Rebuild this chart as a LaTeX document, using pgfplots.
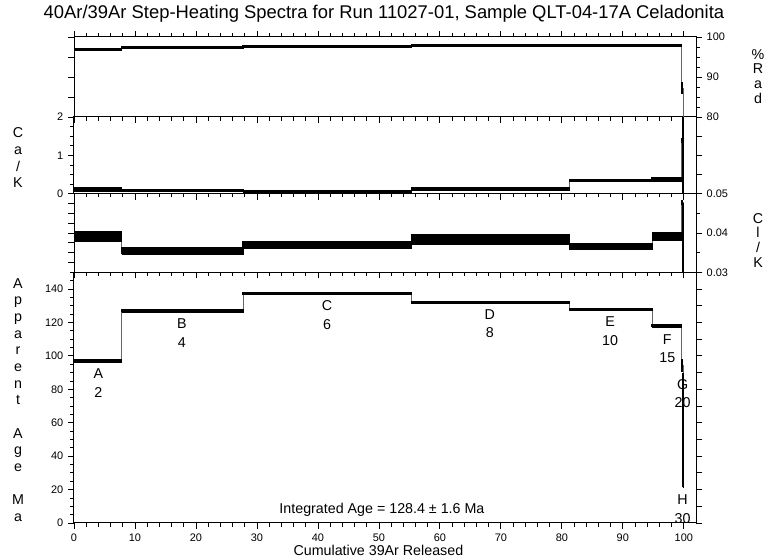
\documentclass[border=0pt]{standalone}
\usepackage{fontspec}
\setmainfont{Liberation Sans}
\usepackage{pgfplots}
\pgfplotsset{compat=1.18}

% one step of the spectrum: x from #1 to #2, band from #3 to #4
\newcommand\stepbox[4]{\addplot[stepbar] coordinates {(#1,#3) (#2,#3) (#2,#4) (#1,#4) (#1,#3)};}

\pgfplotsset{
  base/.style={scale only axis, width=466.5pt, xmin=0, xmax=102, clip=true,
    axis line style={line width=0.75pt},
    tick align=outside, major tick length=4.5pt, minor tick length=2.8pt,
    tick style={black, line width=0.6pt},
    tick label style={font=\fontsize{8.2}{9}\selectfont},
    /pgf/number format/assume math mode=true,
    scaled ticks=false},
  panel/.style={base, xtick={0,10,...,100}, minor xtick={0,2,...,100},
    xticklabels={}, ytick pos=left, xtick pos=bottom},
  rside/.style={base, axis y line*=right, axis x line=none, tick align=outside},
}
\tikzset{
  stepbar/.style={fill=black, draw=black, line width=0.9pt},
  conn/.style={const plot, draw=black!60, line width=0.5pt},
  steplbl/.style={font=\fontsize{10.7}{13.9}\selectfont, align=center, inner sep=0pt},
  stack/.style={align=center, font=\fontsize{10.7}{12.5}\selectfont},
  rstack/.style={align=center, font=\fontsize{10.7}{11}\selectfont},
}

\begin{document}
\begin{tikzpicture}
\path[use as bounding box] (-55.5pt,-27.75pt) rectangle (522.75pt,392.25pt);

% ---- apparent age ----
\begin{axis}[panel, at={(0,0)}, anchor=south west, height=188pt,
  ymin=0, ymax=150, ytick={0,20,...,140}, minor ytick={0,5,...,150},
  xticklabels={0,10,20,30,40,50,60,70,80,90,100}]
\addplot[conn] coordinates {(0,97) (7.8,126.8) (27.7,137.3) (55.3,132) (81.2,127.8)
  (94.8,117.9) (99.6,94.25) (99.85,55.3) (100,55.3)};
\stepbox{0}{7.8}{96.3}{97.7}
\stepbox{7.8}{27.7}{126.1}{127.5}
\stepbox{27.7}{55.3}{136.6}{138.0}
\stepbox{55.3}{81.2}{131.3}{132.7}
\stepbox{81.2}{94.8}{127.1}{128.5}
\stepbox{94.8}{99.6}{117.2}{118.6}
\stepbox{99.6}{99.85}{90.9}{97.6}
\stepbox{99.85}{100}{21.3}{89.3}
\node[steplbl] at (axis cs:4,83.7) {A\\2};
\node[steplbl] at (axis cs:17.7,113.8) {B\\4};
\node[steplbl] at (axis cs:41.5,124.5) {C\\6};
\node[steplbl] at (axis cs:68.2,119.4) {D\\8};
\node[steplbl] at (axis cs:87.9,114.9) {E\\10};
\node[steplbl] at (axis cs:97.3,104.2) {F\\15};
\node[steplbl] at (axis cs:99.8,77.5) {G\\20};
\node[steplbl] at (axis cs:99.8,8.4) {H\\30};
\node[font=\fontsize{10.7}{12.5}\selectfont] at (axis cs:50.5,7.7) {Integrated Age = 128.4 ± 1.6 Ma};
\end{axis}
\begin{axis}[rside, at={(0,0)}, anchor=south west, height=188pt,
  ymin=0, ymax=150, ytick={0,10,...,150}, yticklabels={}]
\end{axis}

% ---- Cl/K ----
\begin{axis}[panel, at={(0,188pt)}, anchor=south west, height=59pt,
  ymin=0.03, ymax=0.05,
  ytick={0.0325,0.035,0.0375,0.04,0.0425,0.045,0.0475}, yticklabels={}]
\addplot[conn] coordinates {(0,0.0391) (7.8,0.0354) (27.7,0.0369) (55.3,0.0384) (81.2,0.0365)
  (94.8,0.0391) (99.6,0.0477) (99.85,0.02) (100,0.02)};
\stepbox{0}{7.8}{0.0378}{0.0404}
\stepbox{7.8}{27.7}{0.0346}{0.0362}
\stepbox{27.7}{55.3}{0.0361}{0.0377}
\stepbox{55.3}{81.2}{0.0371}{0.0397}
\stepbox{81.2}{94.8}{0.0358}{0.0372}
\stepbox{94.8}{99.6}{0.0381}{0.0401}
\stepbox{99.6}{99.85}{0.0472}{0.0482}
\stepbox{99.85}{100}{0.0}{0.0476}
\end{axis}
\begin{axis}[rside, at={(0,188pt)}, anchor=south west, height=59pt,
  ymin=0.03, ymax=0.05, ytick={0.03,0.04,0.05}, yticklabels={0.03,0.04,0.05},
  minor ytick={0.035,0.045}]
\end{axis}

% ---- Ca/K ----
\begin{axis}[panel, at={(0,247pt)}, anchor=south west, height=57.5pt,
  ymin=0, ymax=2, ytick={0,1,2}, minor ytick={0,0.25,...,2}]
\addplot[conn] coordinates {(0,0.11) (7.8,0.08) (27.7,0.055) (55.3,0.12) (81.2,0.34)
  (94.8,0.375) (99.6,1.38) (99.85,2.5) (100,2.5)};
\stepbox{0}{7.8}{0.06}{0.16}
\stepbox{7.8}{27.7}{0.055}{0.105}
\stepbox{27.7}{55.3}{0.035}{0.075}
\stepbox{55.3}{81.2}{0.095}{0.145}
\stepbox{81.2}{94.8}{0.31}{0.37}
\stepbox{94.8}{99.6}{0.325}{0.425}
\stepbox{99.6}{99.85}{1.33}{1.43}
\stepbox{99.85}{100}{-5}{10}
\end{axis}
\begin{axis}[rside, at={(0,247pt)}, anchor=south west, height=57.5pt,
  ymin=0, ymax=2, ytick={0,0.5,...,2}, yticklabels={}]
\end{axis}

% ---- % radiogenic ----
\begin{axis}[panel, at={(0,304.5pt)}, anchor=south west, height=60pt, xtick pos=both,
  ymin=80, ymax=100, ytick={80,85,...,100}, yticklabels={}]
\addplot[conn] coordinates {(0,96.8) (7.8,97.4) (27.7,97.6) (55.3,97.8) (81.2,97.8)
  (94.8,97.8) (99.6,87.25) (99.85,42.5) (100,42.5)};
\stepbox{0}{7.8}{96.55}{97.05}
\stepbox{7.8}{27.7}{97.15}{97.65}
\stepbox{27.7}{55.3}{97.35}{97.85}
\stepbox{55.3}{81.2}{97.55}{98.05}
\stepbox{81.2}{94.8}{97.55}{98.05}
\stepbox{94.8}{99.6}{97.55}{98.05}
\stepbox{99.6}{99.85}{85.9}{88.6}
\stepbox{99.85}{100}{40}{45}
\end{axis}
\begin{axis}[rside, at={(0,304.5pt)}, anchor=south west, height=60pt,
  ymin=80, ymax=100, ytick={80,90,100}, yticklabels={80,90,100},
  minor ytick={82.5,85,87.5,92.5,95,97.5}]
\end{axis}

% ---- titles and stacked axis names ----
\node[anchor=base, font=\fontsize{13.8}{16}\selectfont] at (232.5pt,378pt)
  {40Ar/39Ar Step-Heating Spectra for Run 11027-01, Sample QLT-04-17A Celadonita};
\node[anchor=base, font=\fontsize{10.7}{12.5}\selectfont] at (228.3pt,-24.5pt)
  {Cumulative 39Ar Released};
\node[stack] at (-42pt,273.75pt) {C\\a\\/\\K};
\node[stack] at (-42pt,92.25pt)
  {A\\p\\p\\a\\r\\e\\n\\t\\[12.5pt]A\\g\\e\\[12.5pt]M\\a};
\node[rstack] at (513pt,335pt) {\%\\R\\a\\d};
\node[rstack] at (513pt,212pt) {C\\l\\/\\K};
\end{tikzpicture}
\end{document}
